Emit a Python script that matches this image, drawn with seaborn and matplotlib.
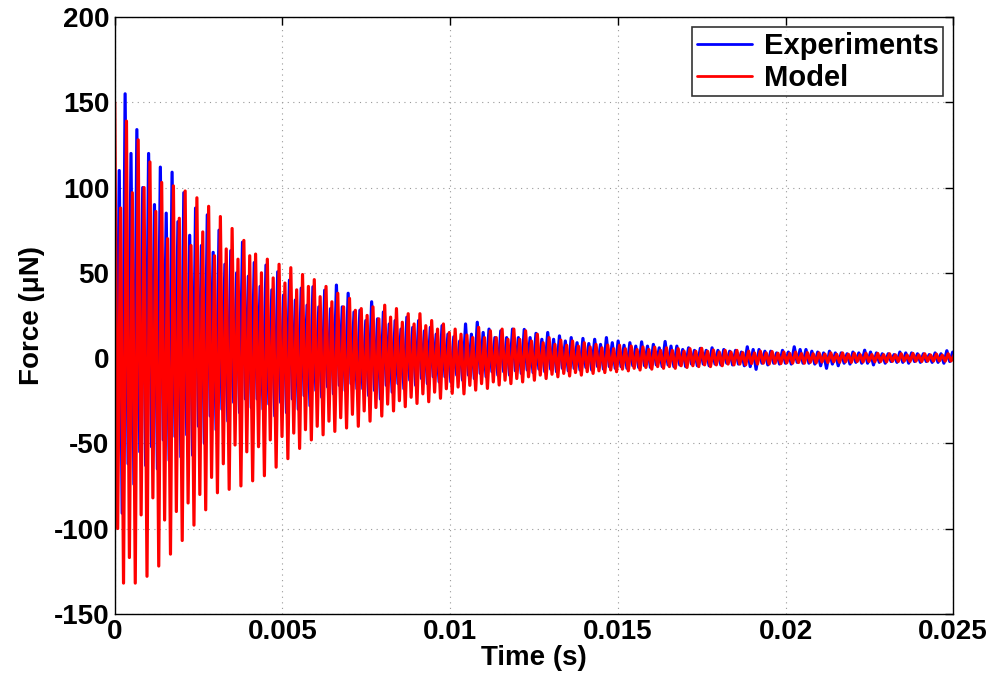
import numpy as np
import pandas as pd
import matplotlib
matplotlib.use("Agg")
import matplotlib.pyplot as plt
import seaborn as sns

# Oscillation: one entry per cycle (period ~0.35 ms)
# hi = main peak, lo = main trough, hi2/lo2 = secondary peak/trough in the same cycle
period = 0.00035

model_hi = [150, 139, 128, 115, 103, 101, 98, 94, 89, 83, 76, 69,
            61, 58, 55, 53, 49, 46, 42, 38, 35, 29, 30, 31,
            29, 26, 26, 22, 20, 17, 13.5, 18, 16, 17, 17, 16,
            14, 12, 10.5, 10, 9, 8, 7.6, 7.5, 7, 6.5, 6.4, 6,
            5.5, 5.5, 5.7, 4.7, 4.5, 4.5, 4, 4, 3.8, 3.5, 3.5, 3.2,
            3, 3, 3, 2.8, 2.8, 2.7, 2.5, 2.5, 2.7, 2.5, 2.3, 2.5]
model_lo = [-132, -132, -128, -122, -115, -107, -98, -89, -79, -77, -75, -72,
            -69, -64, -59, -53, -48, -45, -43, -41, -40, -37, -34, -31,
            -28.5, -26.6, -25.6, -23.6, -20.7, -21, -18.8, -17.8, -15.8, -15, -14, -13,
            -12, -11, -10.5, -10, -9, -8.5, -8, -7.5, -7, -6.5, -6, -6,
            -5.5, -5, -5, -4.5, -4, -4, -3.5, -3.5, -3.2, -3, -3, -2.8,
            -2.6, -2.5, -2.5, -2.3, -2.2, -2.2, -2, -2, -2, -1.8, -1.8, -1.8]
model_hi2 = [88, 97, 100, 86, 70, 82, 66, 74, 60, 64, 58, 60,
             50, 47, 44, 40, 42, 36, 33, 30, 28, 25, 23, 24,
             21, 20, 19, 17, 15, 14, 12, 12, 12, 11, 11, 10,
             9, 8, 7.5, 7, 6.5, 6, 5.5, 5.5, 5, 5, 4.5, 4.5,
             4, 4, 4, 3.5, 3.5, 3.2, 3, 3, 2.8, 2.7, 2.6, 2.5,
             2.3, 2.2, 2.2, 2, 2, 2, 1.9, 1.8, 1.8, 1.8, 1.7, 1.7]
model_lo2 = [-100, -117, -92, -82, -95, -90, -85, -80, -70, -62, -51, -55,
             -52, -48, -46, -44, -42, -40, -37, -35, -33, -31, -29, -27,
             -25, -23, -21, -20, -18, -17, -16, -15, -14, -13, -12, -11,
             -10, -9.5, -9, -8.5, -8, -7.5, -7, -6.5, -6, -5.5, -5, -5,
             -4.5, -4.5, -4, -4, -3.5, -3.5, -3.2, -3, -3, -2.8, -2.6, -2.5,
             -2.3, -2.2, -2.2, -2, -2, -2, -1.9, -1.8, -1.8, -1.8, -1.7, -1.7]

exp_hi = [137, 155, 134, 120, 112, 109, 97, 88, 84, 75, 63, 68,
          56, 54.5, 50.6, 45.7, 41, 41.8, 39.8, 42.8, 38, 28, 33, 27,
          22, 24, 22, 18, 19, 12.5, 20, 21, 17, 16, 17, 16.8,
          14.5, 15, 13, 12, 11.5, 11, 12, 10, 9, 9.5, 8, 9.7,
          7, 6, 5.7, 6, 5, 4.5, 6.6, 5, 4, 4.5, 6.6, 5,
          3.5, 4, 3, 3.5, 4.6, 3, 2.5, 3.5, 3, 2.5, 3, 4.3]
exp_lo = [-91, -74, -63, -65, -60, -58, -57, -50, -42, -37, -32, -29,
          -30, -34, -32, -30, -28, -23, -21, -19, -18, -22, -24, -20,
          -18, -16, -15, -14, -14, -13, -12, -11, -10, -10, -9, -8.5,
          -8, -8, -7.5, -7, -7, -6.5, -6, -6, -5.5, -5.5, -5, -5,
          -5, -4.5, -4.5, -4, -4, -4.5, -6.6, -4, -3.5, -3.5, -3, -3.5,
          -6, -4.5, -3.5, -3, -4, -3, -2.5, -3, -2.5, -2.5, -3, -2.5]
exp_hi2 = [110, 120, 100, 90, 85, 80, 72, 66, 62, 55, 50, 48,
           42, 40, 37, 34, 31, 30, 29, 30, 27, 22, 23, 20,
           17, 18, 16, 14, 14, 10, 14, 15, 12, 12, 12, 12,
           11, 11, 10, 9, 8.5, 8, 9, 7.5, 7, 7, 6, 7,
           5, 4.5, 4.5, 4.5, 4, 3.5, 5, 4, 3, 3.5, 5, 4,
           3, 3, 2.5, 3, 3.5, 2.5, 2, 3, 2.5, 2, 2.5, 3.5]
exp_lo2 = [-75, -62, -55, -52, -48, -46, -45, -40, -34, -30, -26, -24,
           -24, -27, -26, -24, -22, -19, -17, -16, -15, -18, -19, -16,
           -15, -13, -12, -11, -11, -10, -10, -9, -8, -8, -7.5, -7,
           -6.5, -6.5, -6, -6, -5.5, -5, -5, -5, -4.5, -4.5, -4, -4,
           -4, -3.5, -3.5, -3.5, -3, -3.5, -5, -3, -3, -3, -2.5, -3,
           -4.5, -3.5, -3, -2.5, -3, -2.5, -2, -2.5, -2, -2, -2.5, -2]

x_ticks = [0, 0.005, 0.01, 0.015, 0.02, 0.025]
x_labels = ["0", "0.005", "0.01", "0.015", "0.02", "0.025"]
y_ticks = [-150, -100, -50, 0, 50, 100, 150, 200]


def build_series(hi, lo, hi2, lo2, t0):
    # each cycle: main peak -> secondary trough -> secondary peak -> main trough
    vals = np.column_stack([hi, lo2, hi2, lo]).ravel()
    n = len(hi)
    t = t0 + (np.arange(4 * n) / 4.0) * period
    return pd.DataFrame({"t": t, "f": vals})


exp_df = build_series(exp_hi, exp_lo, exp_hi2, exp_lo2, -0.00004)
mod_df = build_series(model_hi, model_lo, model_hi2, model_lo2, 0.0)

sns.set_style("white")
plt.rcParams["font.family"] = ["Liberation Sans", "DejaVu Sans"]
plt.rcParams["font.weight"] = "bold"
plt.rcParams["text.color"] = "black"
plt.rcParams["axes.labelcolor"] = "black"
plt.rcParams["xtick.color"] = "black"
plt.rcParams["ytick.color"] = "black"

fig = plt.figure(figsize=(9.95, 6.85), dpi=100)
ax = fig.add_axes([0.1153, 0.104, 0.8427, 0.871])

sns.lineplot(data=exp_df, x="t", y="f", color="#0000ff", lw=2.3, sort=False,
             estimator=None, label="Experiments", ax=ax)
sns.lineplot(data=mod_df, x="t", y="f", color="#ff0000", lw=2.3, sort=False,
             estimator=None, label="Model", ax=ax)

ax.set_xlim(0, 0.025)
ax.set_ylim(-150, 200)
ax.set_xticks(x_ticks)
ax.set_xticklabels(x_labels)
ax.set_yticks(y_ticks)
ax.set_yticklabels([str(v) for v in y_ticks])
ax.tick_params(direction="in", top=True, right=True, length=6, width=1,
               labelsize=20, pad=4, colors="black")
for s in ax.spines.values():
    s.set_color("black")
    s.set_linewidth(1)
ax.grid(True, linestyle=(0, (1, 4)), color="#999999", linewidth=0.8)

ax.set_xlabel("Time (s)", fontsize=20, fontweight="bold", labelpad=0, color="black")
ax.set_ylabel("Force (\u03bcN)", fontsize=20, fontweight="bold", labelpad=6, color="black")

leg = ax.legend(loc="upper right", fontsize=21, frameon=True, fancybox=False,
                edgecolor="black", handlelength=1.9, borderpad=0.15,
                labelspacing=0.15, handletextpad=0.4, borderaxespad=0.35)
leg.get_frame().set_linewidth(1.2)
for line in leg.get_lines():
    line.set_linewidth(2)
for txt in leg.get_texts():
    txt.set_color("black")

fig.savefig("out.png", dpi=100)
